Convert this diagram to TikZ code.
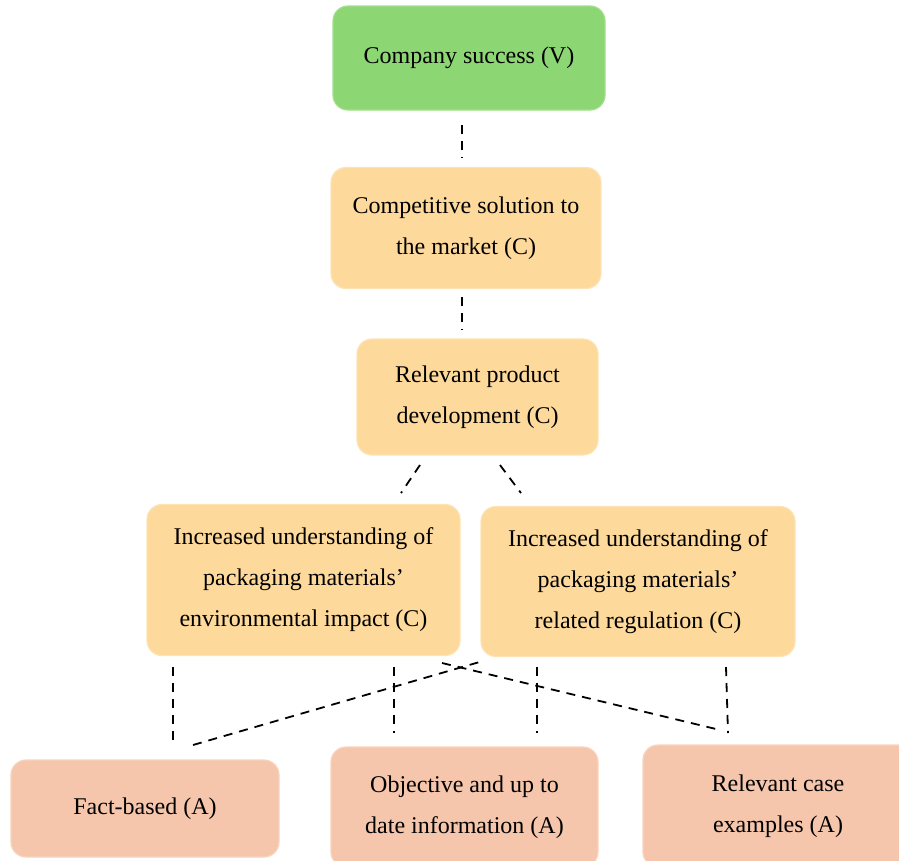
\documentclass[tikz,border=0pt]{standalone}
\usepackage{fontspec}
\setmainfont{Liberation Serif}
\definecolor{vgreen}{HTML}{8DD674}
\definecolor{vgreenb}{HTML}{A3DE8C}
\definecolor{corange}{HTML}{FDD99B}
\definecolor{corangeb}{HTML}{FEE3B4}
\definecolor{asalmon}{HTML}{F5C6AB}
\definecolor{asalmonb}{HTML}{F8D4BF}
\tikzset{
  box/.style={rounded corners=15pt, align=center, inner sep=0pt, line width=1.2pt,
    font=\fontsize{24}{41}\selectfont, text=black},
  vbox/.style={box, fill=vgreen, draw=vgreenb},
  cbox/.style={box, fill=corange, draw=corangeb},
  abox/.style={box, fill=asalmon, draw=asalmonb},
  link/.style={line width=1.8pt, dash pattern=on 9pt off 7pt, black}
}
\begin{document}
\begin{tikzpicture}[x=1pt,y=-1pt]
\clip (0,0) rectangle (899,860);
\fill[white] (0,0) rectangle (899,860);

\node[vbox, minimum width=272pt, minimum height=104pt] (V) at (469,58) {Company success (V)};
\node[cbox, minimum width=270pt, minimum height=121pt] (C1) at (466,228) {Competitive solution to\\the market (C)};
\node[cbox, minimum width=241pt, minimum height=116pt] (C2) at (477.5,397) {Relevant product\\development (C)};
\node[cbox, minimum width=313pt, minimum height=151pt] (L) at (303.5,580) {Increased understanding of\\packaging materials'\\environmental impact (C)};
\node[cbox, minimum width=314pt, minimum height=150pt] (R) at (638,581.5) {Increased understanding of\\packaging materials'\\related regulation (C)};
\node[abox, minimum width=268pt, minimum height=97pt] (A1) at (145,808.5) {Fact-based (A)};
\node[abox, minimum width=267pt, minimum height=120pt] (A2) at (464.5,807) {Objective and up to\\date information (A)};
\node[abox, minimum width=270pt, minimum height=122pt] (A3) at (778,806) {Relevant case\\examples (A)};

% connector end points
\coordinate (v1) at (462,125);  \coordinate (v2) at (462,158);
\coordinate (c1a) at (462,297); \coordinate (c1b) at (462,330);
\coordinate (c2l) at (420,465); \coordinate (ll) at (401,493);
\coordinate (c2r) at (500,465); \coordinate (rr) at (521,493);
\coordinate (la) at (173,667);  \coordinate (a1a) at (173,743);
\coordinate (a1b) at (193,745); \coordinate (rb) at (483,661);
\coordinate (lb) at (394,667);  \coordinate (a2a) at (394,733);
\coordinate (lc) at (442,663);  \coordinate (a3a) at (716,729);
\coordinate (rc) at (537,667);  \coordinate (a2b) at (537,733);
\coordinate (rd) at (726,667);  \coordinate (a3b) at (728,733);

\draw[link] (v1) -- (v2);
\draw[link] (c1a) -- (c1b);
\draw[link] (c2l) -- (ll);
\draw[link] (c2r) -- (rr);
\draw[link] (la) -- (a1a);
\draw[link] (a1b) -- (rb);
\draw[link] (lb) -- (a2a);
\draw[link] (lc) -- (a3a);
\draw[link] (rc) -- (a2b);
\draw[link] (rd) -- (a3b);
\end{tikzpicture}
\end{document}
